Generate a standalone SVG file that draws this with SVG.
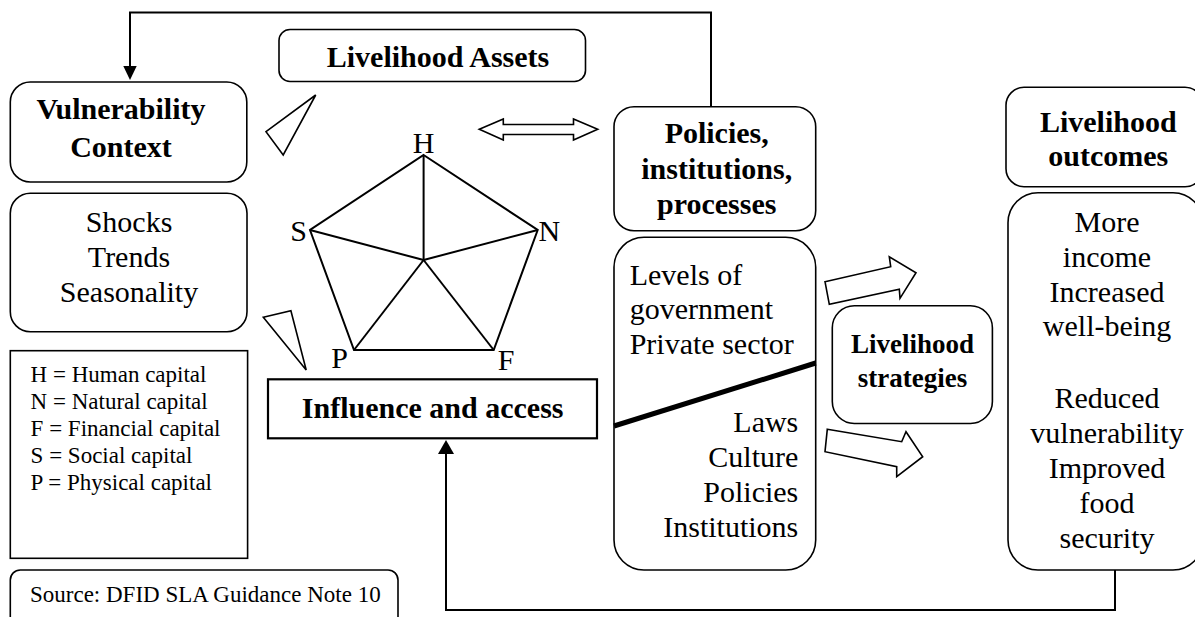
<svg xmlns="http://www.w3.org/2000/svg" width="1195" height="617" viewBox="0 0 1195 617">
  <style>
    .box { fill: #fff; stroke: #000; stroke-width: 1.6; }
    .line { fill: none; stroke: #000; stroke-width: 2; }
    .shape { fill: #fff; stroke: #000; stroke-width: 1.6; stroke-linejoin: miter; }
    text { font-family: "Liberation Serif", "Times New Roman", serif; fill: #000; }
    .b { font-weight: bold; font-size: 30px; }
    .r { font-size: 30px; }
    .m { text-anchor: middle; }
    .e { text-anchor: end; }
    .leg { font-size: 23px; }
  </style>
  <rect width="1195" height="617" fill="#fff"/>

  <!-- feedback connectors -->
  <g id="connectors">
    <polyline class="line" points="711,106 711,12.5 130,12.5 130,67"/>
    <polygon points="123.3,66 136.7,66 130,80" fill="#000"/>
    <polyline class="line" points="1115,570 1115,610 446,610 446,453"/>
    <polygon points="438,454 454,454 446,440" fill="#000"/>
    <!-- two-way arrow between assets and policies -->
    <polygon class="shape" points="479.3,129.3 503.3,119 503.3,124.5 573.5,124.5 573.5,119 597.7,129.3 573.5,140 573.5,134.5 503.3,134.5 503.3,140"/>
    <!-- wedge pointers -->
    <polygon class="shape" points="315.7,95 266,131.7 283.2,155"/>
    <polygon class="shape" points="263.3,317.3 290.9,310.7 306.2,370"/>
    <!-- block arrows to livelihood strategies -->
    <polygon class="shape" points="825,281.7 890.7,266.7 889.3,256.7 916,272.7 900,298.3 899.3,289.3 829.3,304.3"/>
    <polygon class="shape" points="827.3,429.3 901.7,441.7 906,431.7 922.7,456.7 896.7,476.7 896.7,466.7 825,451.7"/>
  </g>

  <g id="livelihood-assets">
    <rect class="box" x="279" y="29.5" width="306.5" height="52" rx="11"/>
    <text class="b m" x="438" y="67">Livelihood Assets</text>
  </g>

  <g id="vulnerability-context">
    <rect class="box" x="10.3" y="82" width="236.5" height="100" rx="20"/>
    <text class="b m" x="121" y="119">Vulnerability</text>
    <text class="b m" x="121" y="156.5">Context</text>
  </g>

  <g id="shocks">
    <rect class="box" x="10.3" y="193.3" width="236.7" height="138.4" rx="20"/>
    <text class="r m" x="129" y="231.5">Shocks</text>
    <text class="r m" x="129" y="266.5">Trends</text>
    <text class="r m" x="129" y="302">Seasonality</text>
  </g>

  <g id="asset-pentagon">
    <polygon class="line" points="423.6,155 537.7,230 493.7,350 354,350 310,230"/>
    <line class="line" x1="423.6" y1="260" x2="423.6" y2="155"/>
    <line class="line" x1="423.6" y1="260" x2="537.7" y2="230"/>
    <line class="line" x1="423.6" y1="260" x2="493.7" y2="350"/>
    <line class="line" x1="423.6" y1="260" x2="354" y2="350"/>
    <line class="line" x1="423.6" y1="260" x2="310" y2="230"/>
    <text class="r m" x="423.6" y="153">H</text>
    <text class="r e" x="307" y="241">S</text>
    <text class="r" x="538.5" y="241">N</text>
    <text class="r m" x="339.5" y="368">P</text>
    <text class="r m" x="506" y="370">F</text>
  </g>

  <g id="legend">
    <rect x="10.3" y="350.7" width="237.3" height="207.6" fill="#fff" stroke="#000" stroke-width="1.6"/>
    <text class="leg" x="30.6" y="381.7">H = Human capital</text>
    <text class="leg" x="30.6" y="408.7">N = Natural capital</text>
    <text class="leg" x="30.6" y="435.7">F = Financial capital</text>
    <text class="leg" x="30.6" y="462.7">S = Social capital</text>
    <text class="leg" x="30.6" y="489.7">P = Physical capital</text>
  </g>

  <g id="source">
    <rect class="box" x="10.3" y="570" width="387.7" height="70" rx="10"/>
    <text class="leg" x="30" y="601.5">Source: DFID SLA Guidance Note 10</text>
  </g>

  <g id="influence-access">
    <rect x="268" y="379.3" width="329" height="59" fill="#fff" stroke="#000" stroke-width="2.2"/>
    <text class="b m" x="432.7" y="418">Influence and access</text>
  </g>

  <g id="policies">
    <rect class="box" x="614" y="106.7" width="201.7" height="124" rx="20"/>
    <text class="b m" x="716.7" y="143">Policies,</text>
    <text class="b m" x="716.7" y="179">institutions,</text>
    <text class="b m" x="716.7" y="213.5">processes</text>
  </g>

  <g id="structures">
    <rect class="box" x="614" y="237.3" width="201.7" height="332.7" rx="30"/>
    <line x1="614" y1="426" x2="815.7" y2="363" stroke="#000" stroke-width="5"/>
    <text class="r" x="629.7" y="285">Levels of</text>
    <text class="r" x="629.7" y="319">government</text>
    <text class="r" x="629.7" y="354">Private sector</text>
    <text class="r e" x="798.3" y="431.7">Laws</text>
    <text class="r e" x="798.3" y="466.7">Culture</text>
    <text class="r e" x="798.3" y="501.7">Policies</text>
    <text class="r e" x="798.3" y="537">Institutions</text>
  </g>

  <g id="livelihood-strategies">
    <rect class="box" x="832.3" y="305.8" width="160.1" height="117.7" rx="22"/>
    <text class="b m" x="912.5" y="353" style="font-size:27px">Livelihood</text>
    <text class="b m" x="912.5" y="387" style="font-size:27px">strategies</text>
  </g>

  <g id="livelihood-outcomes">
    <rect class="box" x="1006" y="87.3" width="197" height="99.4" rx="18"/>
    <text class="b m" x="1108.3" y="131.7">Livelihood</text>
    <text class="b m" x="1108.3" y="165.7">outcomes</text>
  </g>

  <g id="outcomes-list">
    <rect class="box" x="1008" y="192.7" width="195" height="377.3" rx="30"/>
    <text class="r m" x="1107" y="231.7">More</text>
    <text class="r m" x="1107" y="266.7">income</text>
    <text class="r m" x="1107" y="301.7">Increased</text>
    <text class="r m" x="1107" y="335.5">well-being</text>
    <text class="r m" x="1107" y="408.3">Reduced</text>
    <text class="r m" x="1107" y="443.3">vulnerability</text>
    <text class="r m" x="1107" y="478.3">Improved</text>
    <text class="r m" x="1107" y="513.3">food</text>
    <text class="r m" x="1107" y="548.3">security</text>
  </g>
</svg>
